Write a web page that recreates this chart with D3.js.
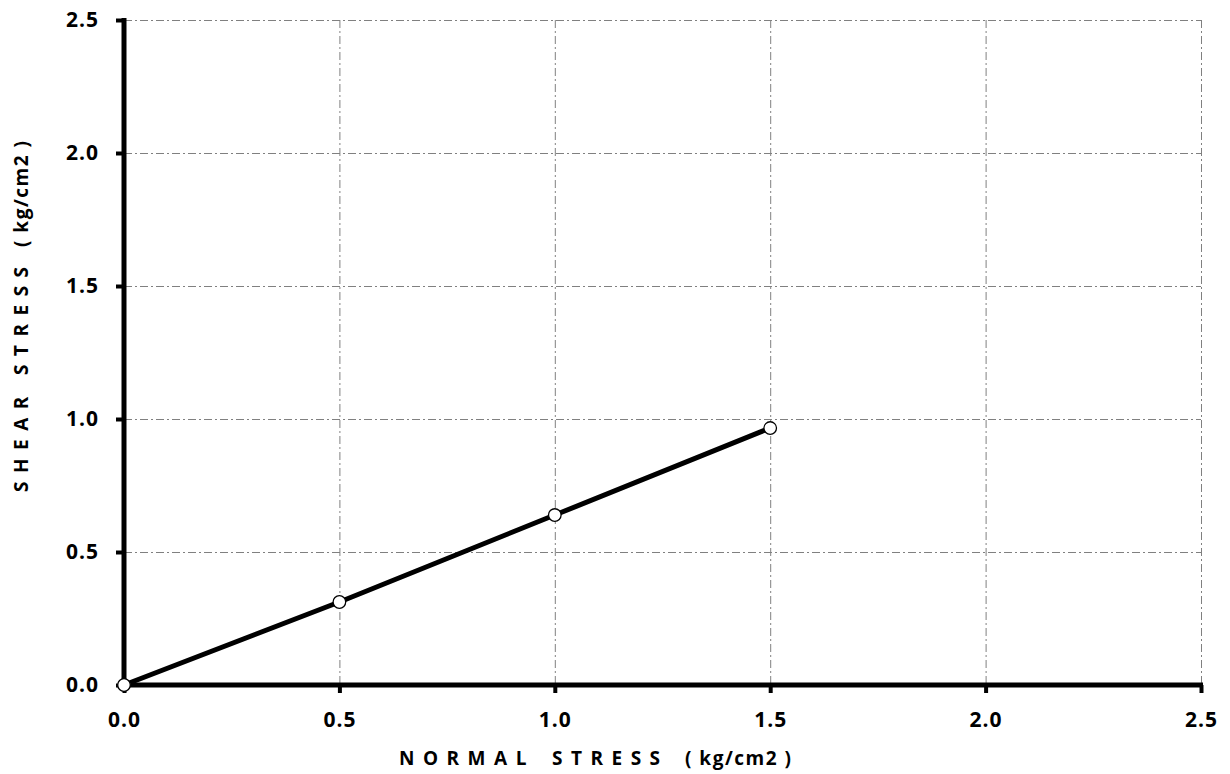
<!DOCTYPE html>
<html>
<head>
<meta charset="utf-8">
<script src="https://cdn.jsdelivr.net/npm/d3@7"></script>
<style>
  body { margin: 0; background: #fff; }
  text { font-family: "Open Sans", "Liberation Sans", sans-serif; font-weight: bold; fill: #000; }
</style>
</head>
<body>
<svg width="1230" height="774"></svg>
<script>
const normalStress = [0.0, 0.5, 1.0, 1.5];
const shearStress = [0.0, 0.312, 0.639, 0.966];
const xTicks = [0.0, 0.5, 1.0, 1.5, 2.0, 2.5];
const yTicks = [0.0, 0.5, 1.0, 1.5, 2.0, 2.5];

const svg = d3.select('svg');

const plotLeft = 124, plotRight = 1201, plotTop = 20, plotBottom = 685;

const x = d3.scaleLinear().domain([0, 2.5]).range([plotLeft, plotRight]);
const y = d3.scaleLinear().domain([0, 2.5]).range([plotBottom, plotTop]);

// grid
const grid = svg.append('g')
    .attr('stroke', '#808080')
    .attr('stroke-width', 1)
    .attr('stroke-dasharray', '8,3,2,3');

grid.selectAll('.vg')
    .data(xTicks.slice(1))
  .enter().append('line')
    .attr('x1', d => x(d) + 0.5)
    .attr('x2', d => x(d) + 0.5)
    .attr('y1', plotTop)
    .attr('y2', plotBottom);

grid.selectAll('.hg')
    .data(yTicks.slice(1))
  .enter().append('line')
    .attr('x1', plotLeft)
    .attr('x2', plotRight)
    .attr('y1', d => y(d) + 0.5)
    .attr('y2', d => y(d) + 0.5);

// axes
const xAxis = d3.axisBottom(x)
    .tickValues(xTicks)
    .tickFormat(d3.format('.1f'))
    .tickSize(8)
    .tickPadding(19);

const yAxis = d3.axisLeft(y)
    .tickValues(yTicks)
    .tickFormat(d3.format('.1f'))
    .tickSize(8)
    .tickPadding(17);

const gx = svg.append('g')
    .attr('transform', `translate(0,${plotBottom})`)
    .call(xAxis);
gx.select('.domain').remove();
gx.selectAll('.tick line').attr('stroke', '#000').attr('stroke-width', 4);
gx.selectAll('text')
    .style('font-size', '21px')
    .style('letter-spacing', '1px');

const gy = svg.append('g')
    .attr('transform', `translate(${plotLeft},0)`)
    .call(yAxis);
gy.select('.domain').remove();
gy.selectAll('.tick line').attr('stroke', '#000').attr('stroke-width', 4);
gy.selectAll('text')
    .style('font-size', '21px')
    .style('letter-spacing', '1px');

svg.append('line')
    .attr('x1', plotLeft).attr('x2', plotLeft)
    .attr('y1', plotTop - 2).attr('y2', plotBottom + 2.5)
    .attr('stroke', '#000').attr('stroke-width', 5);
svg.append('line')
    .attr('x1', plotLeft - 2.5).attr('x2', plotRight + 2)
    .attr('y1', plotBottom).attr('y2', plotBottom)
    .attr('stroke', '#000').attr('stroke-width', 5);

// data line
const line = d3.line()
    .x((d, i) => x(normalStress[i]))
    .y(d => y(d));

svg.append('path')
    .datum(shearStress)
    .attr('d', line)
    .attr('fill', 'none')
    .attr('stroke', '#000')
    .attr('stroke-width', 5);

svg.selectAll('.pt')
    .data(shearStress)
  .enter().append('circle')
    .attr('cx', (d, i) => x(normalStress[i]))
    .attr('cy', d => y(d))
    .attr('r', 6.3)
    .attr('fill', '#fff')
    .attr('stroke', '#000')
    .attr('stroke-width', 1.3);

// titles
const xTitle = svg.append('text')
    .attr('y', 765)
    .style('font-size', '19px');
xTitle.append('tspan').attr('x', 399).style('letter-spacing', '8.5px').text('NORMAL');
xTitle.append('tspan').attr('x', 552).style('letter-spacing', '8.5px').text('STRESS');
xTitle.append('tspan').attr('x', 685).style('letter-spacing', '1.5px').style('white-space', 'pre').text('( kg/cm2 )');

const yTitle = svg.append('text')
    .attr('transform', 'translate(28,0) rotate(-90)')
    .style('font-size', '19px');
yTitle.append('tspan').attr('x', -492).style('letter-spacing', '8.5px').text('SHEAR');
yTitle.append('tspan').attr('x', -375).style('letter-spacing', '8.5px').text('STRESS');
yTitle.append('tspan').attr('x', -247).style('letter-spacing', '1.5px').style('white-space', 'pre').text('( kg/cm2 )');
</script>
</body>
</html>
